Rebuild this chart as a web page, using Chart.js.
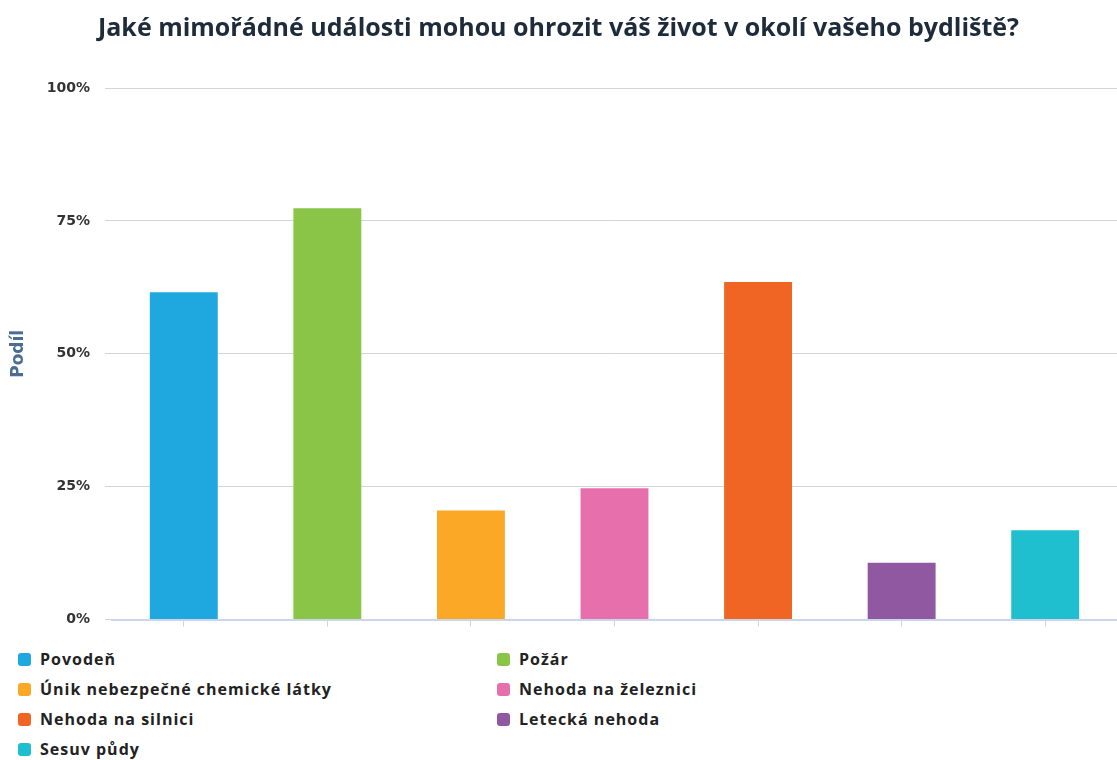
<!DOCTYPE html>
<html>
<head>
<meta charset="utf-8">
<script src="https://cdn.jsdelivr.net/npm/chart.js@4.4.1/dist/chart.umd.min.js"></script>
<style>
  html, body { margin: 0; padding: 0; background: #fff; overflow: hidden; }
  #wrap { position: relative; width: 1117px; height: 760px; }
  #chart { position: absolute; left: 0; top: 0; }
  #legend {
    position: absolute; left: 18px; top: 644px;
    display: grid; grid-template-columns: 479px 400px;
    font: bold 16px "Open Sans", sans-serif; color: #222; letter-spacing: 1px;
  }
  .item { height: 30px; display: flex; align-items: center; }
  .box { width: 13px; height: 13px; border-radius: 3px; margin-right: 9px; }
</style>
</head>
<body>
<div id="wrap">
  <canvas id="chart" width="1117" height="643"></canvas>
  <div id="legend"></div>
</div>
<script>
const categories = [
  "Povodeň",
  "Požár",
  "Únik nebezpečné chemické látky",
  "Nehoda na železnici",
  "Nehoda na silnici",
  "Letecká nehoda",
  "Sesuv půdy"
];
const shares = [61.6, 77.4, 20.5, 24.7, 63.5, 10.7, 16.8];
const colors = ["#1fa8e0", "#8bc548", "#fba826", "#e66fac", "#f06524", "#9058a0", "#1fbfd0"];
const yTicks = [0, 25, 50, 75, 100];

// legend as two columns like the original
const legendEl = document.getElementById("legend");
categories.forEach((name, i) => {
  const div = document.createElement("div");
  div.className = "item";
  div.innerHTML = '<span class="box" style="background:' + colors[i] + '"></span>' + name;
  legendEl.appendChild(div);
});

const ctx = document.getElementById("chart").getContext("2d");
new Chart(ctx, {
  type: "bar",
  data: {
    labels: categories,
    datasets: [{
      data: shares,
      backgroundColor: colors,
      borderWidth: 0,
      categoryPercentage: 1,
      barPercentage: 0.473
    }]
  },
  options: {
    responsive: false,
    animation: false,
    layout: { padding: { left: 0, right: 0, top: 0, bottom: 4 } },
    plugins: {
      legend: { display: false },
      tooltip: { enabled: false },
      title: {
        display: true,
        text: "Jaké mimořádné události mohou ohrozit váš život v okolí vašeho bydliště?",
        color: "#1d2b3a",
        font: { family: "Open Sans", size: 25, weight: "bold" },
        padding: { top: 14, bottom: 44 }
      }
    },
    scales: {
      x: {
        ticks: { display: false },
        grid: {
          offset: false,
          drawOnChartArea: false,
          drawTicks: true,
          tickLength: 7,
          color: "#ccd6eb"
        },
        border: { color: "#ccd6eb", width: 2 }
      },
      y: {
        min: 0,
        max: 100,
        afterBuildTicks: (s) => { s.ticks = yTicks.map(v => ({ value: v })); },
        afterFit: (s) => { s.width = 112; },
        ticks: {
          padding: 15,
          color: "#333",
          font: { family: "DejaVu Sans", size: 14, weight: "bold" },
          callback: (v) => v + "%"
        },
        grid: { color: "#d4d4d4", lineWidth: 1, tickLength: 7 },
        border: { display: false },
        title: {
          display: true,
          text: "Podíl",
          color: "#4a6d93",
          font: { family: "DejaVu Sans", size: 17, weight: "bold" },
          padding: { top: 8, bottom: 0 }
        }
      }
    }
  }
});
</script>
</body>
</html>
